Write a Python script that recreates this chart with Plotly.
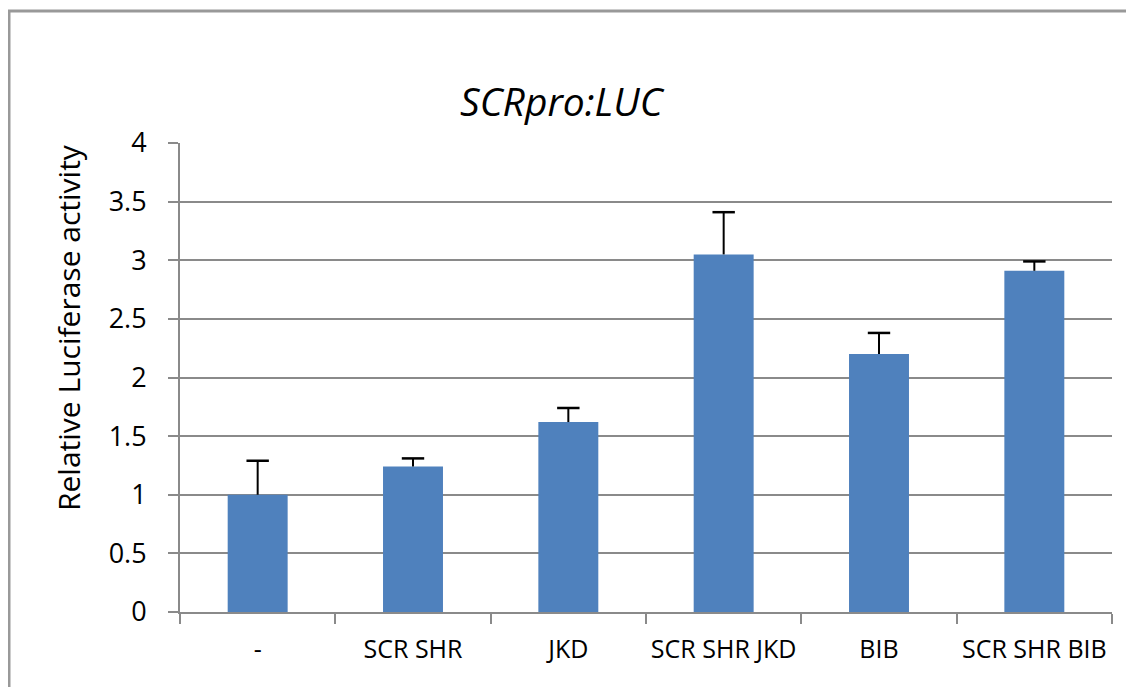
import plotly.graph_objects as go

categories = ["-", "SCR SHR", "JKD", "SCR SHR JKD", "BIB", "SCR SHR BIB"]
values = [1.00, 1.24, 1.62, 3.05, 2.20, 2.91]
errors_up = [0.29, 0.07, 0.12, 0.36, 0.18, 0.08]
y_ticks = [0, 0.5, 1, 1.5, 2, 2.5, 3, 3.5, 4]
y_tick_labels = ["0", "0.5", "1", "1.5", "2", "2.5", "3", "3.5", "4"]

FONT = "Open Sans"
GRAY = "#8a8a8a"

fig = go.Figure()
fig.add_trace(go.Bar(
    x=categories, y=values,
    marker=dict(color="#4F81BD", line=dict(width=0)),
    error_y=dict(type="data", array=errors_up, arrayminus=[0]*len(values),
                 symmetric=False, color="black", thickness=2, width=0),
))
# top caps only (reference has no cap at the bar top)
fig.add_trace(go.Scatter(
    x=categories, y=[v + e for v, e in zip(values, errors_up)],
    mode="markers",
    marker=dict(symbol="line-ew", size=16, line=dict(color="black", width=2.5)),
    hoverinfo="skip",
))

# page has an 8px body offset; work in reference pixel coordinates
OFF = 8
W, H = 1134 - OFF, 687 - OFF
L, T = 180 - OFF, 143 - OFF
R = W - (1112 - OFF)
B = H - (612 - OFF)
pw, ph = W - L - R, H - T - B

def px_x(x):
    return (x - OFF - L) / pw

def px_y(y):
    return (H - B - (y - OFF)) / ph

fig.update_layout(
    width=W, height=H,
    margin=dict(l=L, r=R, t=T, b=B, autoexpand=False),
    paper_bgcolor="white", plot_bgcolor="white",
    showlegend=False,
    bargap=0.614,
    font=dict(family=FONT, color="black"),
    xaxis=dict(
        type="category",
        showline=True, linecolor=GRAY, linewidth=2,
        ticks="outside", tickson="boundaries", ticklen=10, tickwidth=2, tickcolor=GRAY,
        tickfont=dict(family=FONT, size=25, color="black"),
        tickangle=0,
        ticklabelstandoff=14,
        showgrid=False,
    ),
    yaxis=dict(
        range=[0, 4],
        tickvals=y_ticks, ticktext=y_tick_labels,
        showline=True, linecolor=GRAY, linewidth=2,
        ticks="outside", ticklen=10, tickwidth=2, tickcolor=GRAY,
        tickfont=dict(family=FONT, size=27, color="black"),
        ticklabelstandoff=16,
        showgrid=True, gridcolor=GRAY, gridwidth=2,
        zeroline=False,
    ),
    annotations=[
        dict(text="<i>SCRpro:LUC</i>", xref="paper", yref="paper",
             x=px_x(562), y=px_y(100), xanchor="center", yanchor="middle",
             showarrow=False, font=dict(family=FONT, size=39, color="black")),
        dict(text="Relative Luciferase activity", xref="paper", yref="paper",
             x=px_x(68), y=px_y(328), xanchor="center", yanchor="middle",
             textangle=-90, showarrow=False,
             font=dict(family=FONT, size=30, color="black")),
    ],
    shapes=[
        dict(type="rect", xref="paper", yref="paper",
             x0=px_x(9), y0=px_y(11), x1=px_x(1200), y1=px_y(760),
             line=dict(color="#999999", width=3), fillcolor="rgba(0,0,0,0)",
             layer="below"),
    ],
)

fig.write_html("out.html")
